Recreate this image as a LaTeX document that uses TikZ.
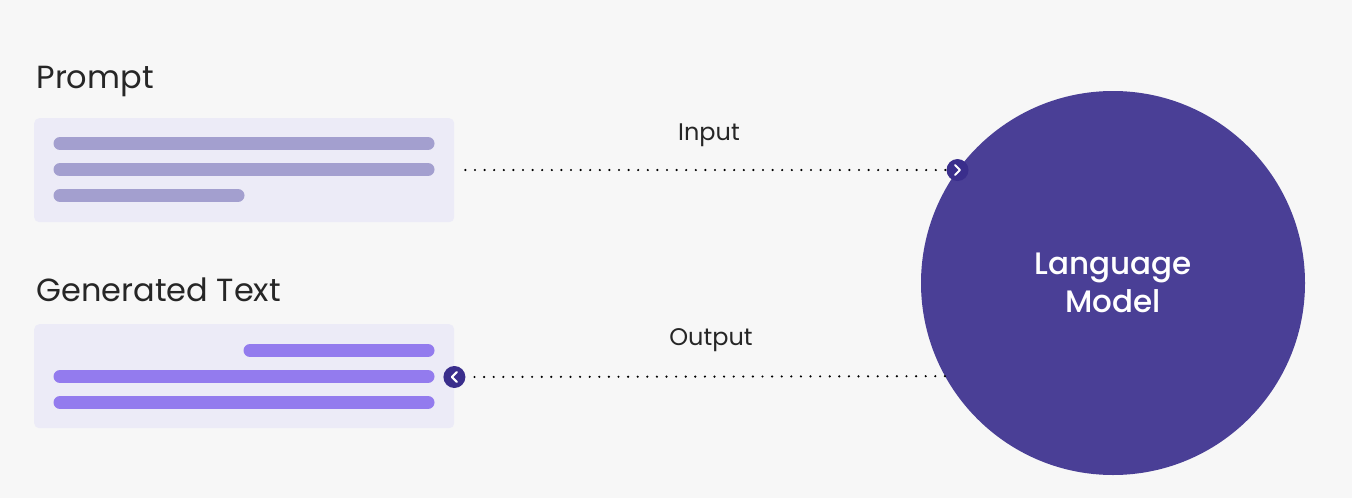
\documentclass[tikz,border=0pt]{standalone}
\usepackage{fontspec}
\setmainfont{Poppins}
\newfontfamily\medfont{Poppins}[UprightFont=* Medium]
\usetikzlibrary{positioning}

\definecolor{bgcol}{HTML}{F7F7F7}
\definecolor{boxcol}{HTML}{ECEBF7}
\definecolor{greybar}{HTML}{A39FCF}
\definecolor{violetbar}{HTML}{937BEE}
\definecolor{modelcol}{HTML}{4A3F96}
\definecolor{tipcol}{HTML}{3A2E8C}

\tikzset{
  panel/.style={fill=boxcol,rounded corners=5pt,minimum width=420pt,minimum height=104pt,inner sep=0pt},
  bar/.style={line width=13pt,line cap=round},
  dotline/.style={line width=2.4pt,line cap=round,dash pattern=on 0pt off 9.6pt},
  tipdot/.style={circle,fill=tipcol,minimum size=22pt,inner sep=0pt},
  heading/.style={anchor=base west,font=\fontsize{32}{38}\selectfont,text=black!85},
  flowlabel/.style={anchor=base,font=\fontsize{24}{29}\selectfont,text=black!85}
}

\begin{document}
\begin{tikzpicture}[x=1pt,y=-1pt]
  \fill[bgcol] (0,0) rectangle (1352,498);
  \useasboundingbox (0,0) rectangle (1352,498);

  \node[heading] (prompthead) at (33,88) {Prompt};
  \node[heading] (genhead) at (33,301) {Generated Text};

  \node[panel,anchor=north west] (prompt) at (34,118) {};
  \node[panel,anchor=north west] (gen) at (34,324) {};

  \draw[greybar,bar] (60,143.5) -- (428,143.5);
  \draw[greybar,bar] (60,169.5) -- (428,169.5);
  \draw[greybar,bar] (60,195.5) -- (238,195.5);

  \draw[violetbar,bar] (250,350.5) -- (428,350.5);
  \draw[violetbar,bar] (60,376.5) -- (428,376.5);
  \draw[violetbar,bar] (60,402.5) -- (428,402.5);

  \node[circle,fill=modelcol,minimum size=384pt,inner sep=0pt,align=center,
        text=white,font=\medfont\fontsize{31}{38}\selectfont] (lm) at (1113,283)
    {Language\\Model};

  % input
  \node[tipdot] (intip) at (lm.144.3) {};
  \draw[white,line width=2pt,line cap=round,line join=round]
    ([shift={(-2.5,-5)}]intip.center) -- ([shift={(2.5,0)}]intip.center) -- ([shift={(-2.5,5)}]intip.center);
  \coordinate (instart) at ([xshift=11pt]prompt.east |- intip);
  \draw[dotline] (instart) -- (intip.west);
  \node[flowlabel] (inlabel) at (709,140) {Input};

  % output
  \node[tipdot] (outtip) at (gen.east |- 0,377) {};
  \draw[white,line width=2pt,line cap=round,line join=round]
    ([shift={(2.5,-5)}]outtip.center) -- ([shift={(-2.5,0)}]outtip.center) -- ([shift={(2.5,5)}]outtip.center);
  \draw[dotline] (lm.209.3) -- (outtip.east);
  \node[flowlabel] (outlabel) at (711,345) {Output};
\end{tikzpicture}
\end{document}
